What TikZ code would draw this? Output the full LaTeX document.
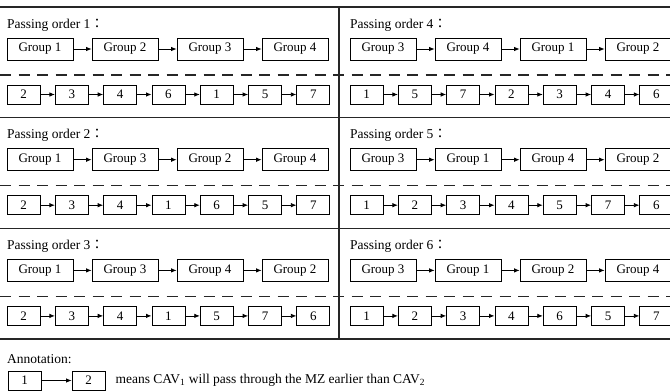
\documentclass[tikz,border=0pt]{standalone}
\usepackage{fontspec}
\setmainfont{Liberation Serif}
\newfontfamily\cjk{Noto Sans CJK JP}
\usetikzlibrary{arrows.meta,positioning}

\begin{document}
\begin{tikzpicture}[x=1pt,y=-1pt,
  grpbox/.style={draw,line width=0.8pt,minimum width=66pt,minimum height=22pt,
                 inner sep=0pt,font=\fontsize{13}{15}\selectfont},
  numbox/.style={draw,line width=0.8pt,minimum width=33pt,minimum height=19pt,
                 inner sep=0pt,font=\fontsize{13}{15}\selectfont},
  ttl/.style={anchor=west,inner sep=0pt,font=\fontsize{13.5}{15}\selectfont},
  ar/.style={-{Latex[length=5.5pt,width=4.5pt]},line width=0.8pt},
  rule/.style={line width=1.2pt,black!85},
  dashrule/.style={line width=1.1pt,black!85,dash pattern=on 11pt off 7.5pt}]
  \useasboundingbox (0,0) rectangle (670,391);
  % frame of the six panels
  \foreach \y in {7,117.7,228.4,339} \draw[rule] (0,\y) -- (670,\y);
  \foreach \y in {75,185.7,296.4} \draw[dashrule] (0,\y) -- (670,\y);
  \draw[rule] (339,7) -- (339,339);
  % panels: number / column / row / group order / CAV order
  \foreach \p/\col/\row/\grp/\num in {1/0/0/{1,2,3,4}/{2,3,4,6,1,5,7},
      2/0/1/{1,3,2,4}/{2,3,4,1,6,5,7}, 3/0/2/{1,3,4,2}/{2,3,4,1,5,7,6},
      4/1/0/{3,4,1,2}/{1,5,7,2,3,4,6}, 5/1/1/{3,1,4,2}/{1,2,3,4,5,7,6},
      6/1/2/{3,1,2,4}/{1,2,3,4,6,5,7}}{
    \pgfmathsetmacro\xo{343*\col}
    \pgfmathsetmacro\yo{7+110.7*\row}
    \node[ttl] (t\p) at (\xo+7,\yo+18) {Passing order \p{\cjk ：}};
    \foreach \g [count=\i] in \grp
      \node[grpbox] (g\p-\i) at (\xo+40+85*\i-85,\yo+42) {Group \g};
    \foreach \k [count=\i] in \num
      \node[numbox] (n\p-\i) at (\xo+23.5+48.3*\i-48.3,\yo+87.5) {\k};
    \foreach \i [evaluate=\i as \j using int(\i+1)] in {1,2,3}
      \draw[ar] (g\p-\i) -- (g\p-\j);
    \foreach \i [evaluate=\i as \j using int(\i+1)] in {1,...,6}
      \draw[ar] (n\p-\i) -- (n\p-\j);
  }
  % legend
  \node[ttl] (ann) at (7,359) {Annotation:};
  \node[numbox] (la) at (24.5,380.5) {1};
  \node[numbox] (lb) at (88.5,380.5) {2};
  \draw[ar] (la) -- (lb);
  \node[ttl,right=10pt of lb] (lt) {means CAV\textsubscript{1} will pass through the MZ earlier than CAV\textsubscript{2}};
\end{tikzpicture}
\end{document}
